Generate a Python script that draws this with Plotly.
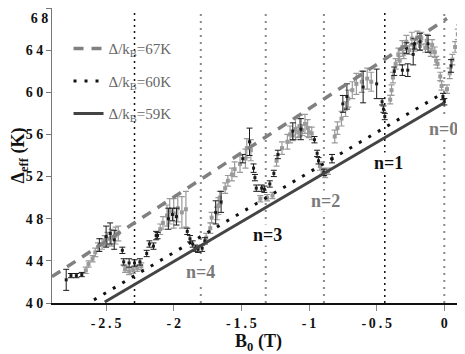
import plotly.graph_objects as go

# gray data points: field (T), gap (K), error (K)
gray_b = [-2.65, -2.63, -2.60, -2.58, -2.56, -2.53, -2.51, -2.49, -2.46, -2.43, -2.41,
          -2.36, -2.33, -2.30, -2.27, -2.24,
          -2.10, -2.08, -2.05, -2.03, -2.00, -1.97, -1.94, -1.91,
          -1.76, -1.73, -1.72, -1.68, -1.67, -1.66, -1.62, -1.60, -1.57, -1.55, -1.51, -1.47,
          -1.46, -1.43, -1.36, -1.31, -1.27, -1.24, -1.20, -1.16, -1.14, -1.10, -1.07, -1.03,
          -1.01, -0.98, -0.92, -0.90, -0.88, -0.86, -0.81, -0.79, -0.76, -0.73, -0.71,
          -0.68, -0.65, -0.61, -0.57, -0.54, -0.40, -0.39, -0.38, -0.36, -0.34, -0.31, -0.28,
          -0.24, -0.20, -0.17, -0.13, -0.09, -0.07, -0.05, -0.03, -0.02,
          0.02, 0.04, 0.06, 0.08, 0.10, 0.11,
          -0.33, -0.30, -0.26, -0.22, -0.18, -0.14, -0.10, -0.06,
          -1.12, -1.08, -1.05, -1.00]
gray_d = [43.1, 43.7, 44.2, 44.8, 45.3, 45.6, 45.9, 46.1, 46.2, 46.4, 46.6,
          43.2, 43.0, 43.1, 43.3, 43.5,
          47.0, 47.6, 48.3, 48.7, 48.5, 49.0, 48.6, 48.9,
          46.2, 47.1, 48.1, 48.5, 49.2, 50.0, 50.9, 51.6, 52.2, 52.7, 53.2, 53.7,
          54.7, 54.5, 49.9, 50.0, 50.2, 53.5, 54.7, 55.3, 56.0, 56.5, 56.8, 57.0,
          56.6, 56.1, 53.0, 52.5, 52.2, 52.5, 55.8, 56.6, 57.5, 58.4, 59.4,
          60.2, 60.8, 61.0, 61.3, 61.0, 59.3, 60.2, 61.4, 62.7, 63.6, 64.3, 64.8,
          65.1, 65.2, 65.1, 64.9, 64.5, 63.8, 62.7, 61.5, 60.6,
          60.3, 61.8, 63.1, 64.3, 65.5, 65.9,
          63.0, 63.6, 64.0, 64.3, 64.4, 64.2, 63.8, 63.0,
          55.9, 56.2, 56.4, 56.2]
gray_e = [0.3, 0.3, 0.3, 0.4, 0.4, 0.5, 0.5, 0.6, 0.8, 0.8, 0.7,
          0.3, 0.3, 0.3, 0.3, 0.3,
          0.5, 0.6, 1.0, 1.2, 1.4, 1.3, 1.5, 1.7,
          0.4, 0.5, 0.5, 0.6, 0.8, 0.6, 0.5, 0.5, 0.6, 0.7, 0.8, 0.9,
          0.9, 1.0, 0.3, 0.3, 0.3, 0.5, 0.6, 0.7, 0.8, 1.0, 1.0, 0.9,
          0.8, 0.6, 0.4, 0.3, 0.3, 0.3, 0.6, 0.6, 0.7, 0.7, 0.8,
          0.8, 1.0, 1.0, 1.0, 0.9, 0.4, 0.5, 0.5, 0.5, 0.6, 0.6, 0.6,
          0.6, 0.6, 0.6, 0.6, 0.5, 0.5, 0.4, 0.4, 0.4,
          0.4, 0.5, 0.5, 0.5, 0.5, 0.5,
          0.4, 0.4, 0.4, 0.4, 0.4, 0.4, 0.4, 0.4,
          0.5, 0.5, 0.5, 0.5]

# black data points
black_b = [-2.795, -2.76, -2.72, -2.68, -2.55, -2.50, -2.47, -2.44, -2.38, -2.37, -2.33,
           -2.29, -2.25, -2.20, -2.18, -2.13,
           -2.15, -2.12, -2.04, -2.01, -1.98, -1.90, -1.88, -1.86, -1.84, -1.82, -1.79,
           -1.77, -1.69, -1.65,
           -1.49, -1.44, -1.41, -1.40, -1.39, -1.35, -1.33, -1.29, -1.26, -1.23, -1.12,
           -1.06, -0.96, -0.94, -0.93, -0.89, -0.83,
           -0.75, -0.72, -0.60, -0.50, -0.46, -0.45, -0.44, -0.37, -0.31, -0.27, -0.23,
           -0.18, -0.12, -0.01, 0.00, 0.05, -0.28, -0.22]
black_d = [42.2, 42.6, 42.6, 42.7, 45.5, 46.3, 46.6, 46.0, 45.0, 43.9, 43.8,
           43.8, 43.9, 44.7, 45.6, 46.4,
           45.4, 46.4, 48.0, 48.4, 48.2, 46.8, 46.1, 45.6, 45.2, 45.1, 45.2,
           45.9, 48.6, 49.6,
           53.7, 55.3, 52.8, 51.9, 50.9, 50.9, 50.8, 51.3, 52.3, 54.1, 56.3,
           56.5, 55.5, 54.2, 53.5, 52.4, 53.7,
           58.9, 59.6, 60.5, 60.8, 59.1, 58.4, 57.7, 62.0, 62.1, 62.1, 63.6,
           64.8, 64.6, 59.6, 59.1, 62.5, 64.2, 64.6]
black_e = [1.0, 0.2, 0.2, 0.2, 0.6, 1.0, 1.0, 0.9, 0.3, 0.3, 0.4,
           0.3, 0.3, 0.3, 0.3, 0.4,
           0.3, 0.3, 1.0, 0.6, 0.8, 0.3, 0.3, 0.3, 0.3, 0.3, 0.3,
           0.3, 1.1, 1.0,
           0.4, 1.3, 0.4, 0.3, 0.3, 0.3, 0.3, 0.3, 0.3, 0.4, 0.8,
           1.0, 0.3, 0.3, 0.3, 0.3, 0.4,
           0.8, 1.2, 1.5, 1.4, 0.3, 0.3, 0.3, 0.4, 0.5, 0.6, 1.0,
           0.8, 0.8, 0.3, 0.3, 0.6, 0.5, 0.5]

# model lines: Delta_eff = Delta + slope * B
line_names = ['Δ/k<sub>B</sub>=67K', 'Δ/k<sub>B</sub>=60K', 'Δ/k<sub>B</sub>=59K']
line_b = [[-2.9, 0.02], [-2.59, 0.0], [-2.51, 0.0]]
line_d = [[42.5, 67.0], [40.3, 60.0], [40.1, 59.0]]

# Landau level crossings
level_b = [-2.29, -1.80, -1.32, -0.89, -0.44, 0.0]
level_black = [True, False, False, False, True, False]
n_labels = ['n=0', 'n=1', 'n=2', 'n=3', 'n=4']
n_b = [-0.005, -0.415, -0.88, -1.31, -1.80]
n_d = [56.5, 53.3, 49.7, 46.5, 42.9]
n_gray = [True, False, True, False, True]

SERIF = 'Liberation Serif'

fig = go.Figure()

for b, black in zip(level_b, level_black):
    fig.add_trace(go.Scatter(
        x=[b, b], y=[40, 67.8], mode='lines', showlegend=False, hoverinfo='skip',
        line=dict(color='#111' if black else '#8a8a8a', width=1.5 if black else 2,
                  dash='2px,4px' if black else '2px,5px')))

fig.add_trace(go.Scatter(
    x=gray_b, y=gray_d, mode='markers', showlegend=False,
    marker=dict(symbol='square', size=4, color='#9a9a9a'),
    error_y=dict(type='data', array=gray_e, color='#9a9a9a', thickness=1.2, width=3)))
fig.add_trace(go.Scatter(
    x=black_b, y=black_d, mode='markers', showlegend=False,
    marker=dict(symbol='square', size=3, color='#1a1a1a'),
    error_y=dict(type='data', array=black_e, color='#1a1a1a', thickness=1, width=3)))

styles = [dict(color='#808080', width=3.5, dash='10px,8px'),
          dict(color='#111', width=3, dash='3px,8px'),
          dict(color='#444', width=3)]
for i, (name, xs, ys, st) in enumerate(zip(line_names, line_b, line_d, styles)):
    fig.add_trace(go.Scatter(x=xs, y=ys, mode='lines', name=name, line=st,
                             legendgroup=str(i)))

# carrier for the top tick label, drawn below its tick so it stays on the page
fig.add_trace(go.Scatter(x=[-2.9], y=[68], yaxis='y2', mode='markers', showlegend=False,
                         hoverinfo='skip', marker=dict(opacity=0)))

for t, b, d, g in zip(n_labels, n_b, n_d, n_gray):
    fig.add_annotation(x=b, y=d, text=t, showarrow=False, bgcolor='white', borderpad=0,
                       font=dict(family=SERIF, size=18, weight='bold',
                                 color='#7a7a7a' if g else '#111'))

x_ticks = [-2.5, -2.0, -1.5, -1.0, -0.5, 0.0]
x_text = ['-\u20092\u2009.\u20095', '-\u20092', '-\u20091\u2009.\u20095', '-\u20091',
          '-\u20090\u2009.\u20095', '0']
y_ticks = [40, 44, 48, 52, 56, 60, 64]
y_text = [' '.join(str(v)) for v in y_ticks]
tickfont = dict(family=SERIF, size=14, weight='bold', color='#111')

fig.update_layout(
    width=465, height=354,
    margin=dict(l=44, r=8, t=0, b=59),
    plot_bgcolor='white', paper_bgcolor='white',
    font=dict(family=SERIF, color='#111'),
    showlegend=True,
    legend=dict(x=0.04, y=0.918, xanchor='left', yanchor='top',
                bgcolor='rgba(0,0,0,0)', tracegroupgap=10,
                font=dict(family=SERIF, size=15, color='#666')),
    xaxis=dict(range=[-2.9, 0.153], tickvals=x_ticks, ticktext=x_text,
               showgrid=False, zeroline=False, showline=True, linecolor='#111',
               linewidth=2, ticks='outside', ticklen=6, tickcolor='#888',
               tickfont=tickfont,
               title=dict(text='B<sub>0</sub> (T)', standoff=2,
                          font=dict(family=SERIF, size=18, weight='bold'))),
    yaxis=dict(range=[40, 68], tickvals=y_ticks, ticktext=y_text,
               showgrid=False, zeroline=False, showline=True, linecolor='#777',
               linewidth=1, ticks='outside', ticklen=5, tickcolor='#777',
               tickfont=tickfont,
               title=dict(text='Δ<sub>eff</sub> (K)', standoff=0,
                          font=dict(family=SERIF, size=18, weight='bold'))),
    yaxis2=dict(overlaying='y', matches='y', side='left', tickvals=[68],
                ticktext=['6 8'], ticklabelposition='outside bottom',
                showgrid=False, zeroline=False, showline=False,
                ticks='outside', ticklen=5, tickcolor='#777', tickfont=tickfont),
)

fig.write_html('out.html')
